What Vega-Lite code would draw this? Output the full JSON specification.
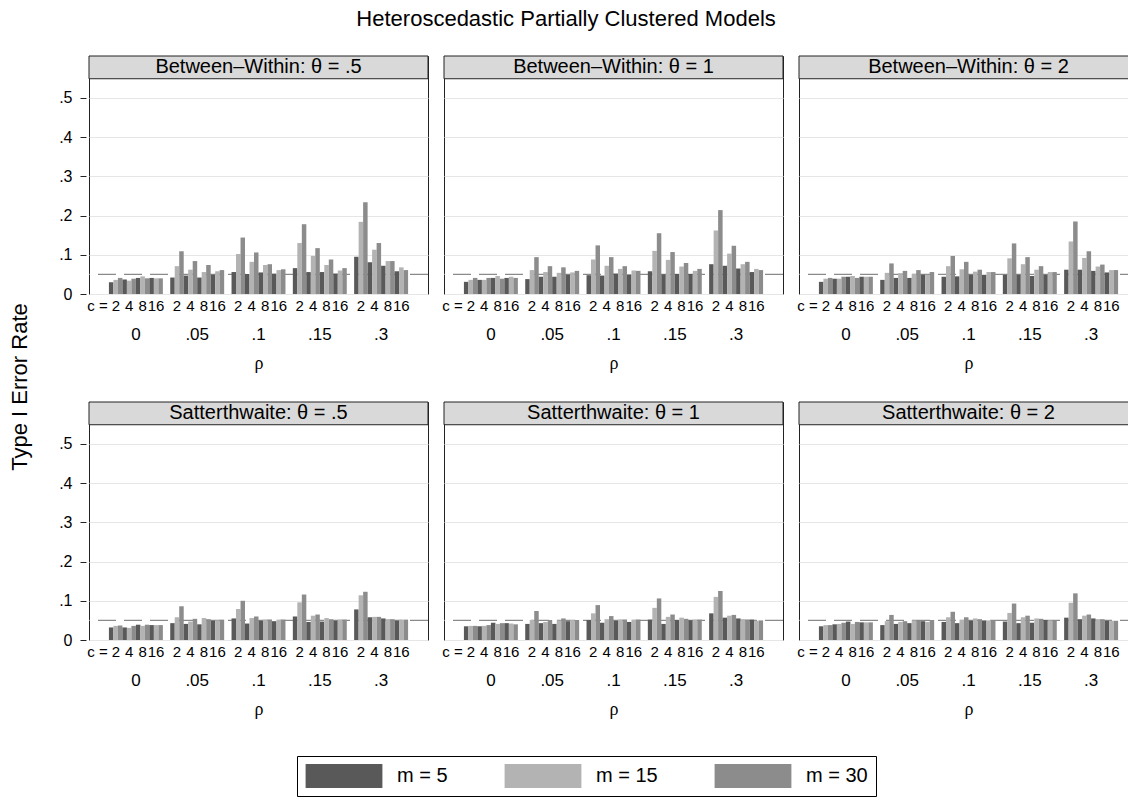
{
"$schema":"https://vega.github.io/schema/vega-lite/v6.json",
"padding":{"left":8,"top":8,"right":0,"bottom":0},
"title":{"text":"Heteroscedastic Partially Clustered Models","fontSize":22,"fontWeight":"normal","font":"Liberation Sans","anchor":"middle","frame":"bounds","offset":24,"dx":-8,"color":"#000"},
"datasets":{
"panels":[
{"p":1,"method":"Between-Within","theta":".5","t":"Between–Within: θ = .5"},
{"p":2,"method":"Between-Within","theta":"1","t":"Between–Within: θ = 1"},
{"p":3,"method":"Between-Within","theta":"2","t":"Between–Within: θ = 2"},
{"p":4,"method":"Satterthwaite","theta":".5","t":"Satterthwaite: θ = .5"},
{"p":5,"method":"Satterthwaite","theta":"1","t":"Satterthwaite: θ = 1"},
{"p":6,"method":"Satterthwaite","theta":"2","t":"Satterthwaite: θ = 2"}
],
"bars":[
{"p":1,"rho":"0","c":2,"m":5,"k":"2/5","v":0.030},{"p":1,"rho":"0","c":2,"m":15,"k":"2/15","v":0.036},{"p":1,"rho":"0","c":2,"m":30,"k":"2/30","v":0.041},
{"p":1,"rho":"0","c":4,"m":5,"k":"4/5","v":0.037},{"p":1,"rho":"0","c":4,"m":15,"k":"4/15","v":0.034},{"p":1,"rho":"0","c":4,"m":30,"k":"4/30","v":0.039},
{"p":1,"rho":"0","c":8,"m":5,"k":"8/5","v":0.041},{"p":1,"rho":"0","c":8,"m":15,"k":"8/15","v":0.045},{"p":1,"rho":"0","c":8,"m":30,"k":"8/30","v":0.040},
{"p":1,"rho":"0","c":16,"m":5,"k":"16/5","v":0.041},{"p":1,"rho":"0","c":16,"m":15,"k":"16/15","v":0.040},{"p":1,"rho":"0","c":16,"m":30,"k":"16/30","v":0.040},
{"p":1,"rho":".05","c":2,"m":5,"k":"2/5","v":0.042},{"p":1,"rho":".05","c":2,"m":15,"k":"2/15","v":0.071},{"p":1,"rho":".05","c":2,"m":30,"k":"2/30","v":0.109},
{"p":1,"rho":".05","c":4,"m":5,"k":"4/5","v":0.047},{"p":1,"rho":".05","c":4,"m":15,"k":"4/15","v":0.062},{"p":1,"rho":".05","c":4,"m":30,"k":"4/30","v":0.084},
{"p":1,"rho":".05","c":8,"m":5,"k":"8/5","v":0.042},{"p":1,"rho":".05","c":8,"m":15,"k":"8/15","v":0.056},{"p":1,"rho":".05","c":8,"m":30,"k":"8/30","v":0.074},
{"p":1,"rho":".05","c":16,"m":5,"k":"16/5","v":0.049},{"p":1,"rho":".05","c":16,"m":15,"k":"16/15","v":0.058},{"p":1,"rho":".05","c":16,"m":30,"k":"16/30","v":0.061},
{"p":1,"rho":".1","c":2,"m":5,"k":"2/5","v":0.056},{"p":1,"rho":".1","c":2,"m":15,"k":"2/15","v":0.102},{"p":1,"rho":".1","c":2,"m":30,"k":"2/30","v":0.144},
{"p":1,"rho":".1","c":4,"m":5,"k":"4/5","v":0.051},{"p":1,"rho":".1","c":4,"m":15,"k":"4/15","v":0.082},{"p":1,"rho":".1","c":4,"m":30,"k":"4/30","v":0.106},
{"p":1,"rho":".1","c":8,"m":5,"k":"8/5","v":0.055},{"p":1,"rho":".1","c":8,"m":15,"k":"8/15","v":0.074},{"p":1,"rho":".1","c":8,"m":30,"k":"8/30","v":0.076},
{"p":1,"rho":".1","c":16,"m":5,"k":"16/5","v":0.052},{"p":1,"rho":".1","c":16,"m":15,"k":"16/15","v":0.061},{"p":1,"rho":".1","c":16,"m":30,"k":"16/30","v":0.063},
{"p":1,"rho":".15","c":2,"m":5,"k":"2/5","v":0.066},{"p":1,"rho":".15","c":2,"m":15,"k":"2/15","v":0.130},{"p":1,"rho":".15","c":2,"m":30,"k":"2/30","v":0.178},
{"p":1,"rho":".15","c":4,"m":5,"k":"4/5","v":0.056},{"p":1,"rho":".15","c":4,"m":15,"k":"4/15","v":0.097},{"p":1,"rho":".15","c":4,"m":30,"k":"4/30","v":0.117},
{"p":1,"rho":".15","c":8,"m":5,"k":"8/5","v":0.056},{"p":1,"rho":".15","c":8,"m":15,"k":"8/15","v":0.074},{"p":1,"rho":".15","c":8,"m":30,"k":"8/30","v":0.088},
{"p":1,"rho":".15","c":16,"m":5,"k":"16/5","v":0.052},{"p":1,"rho":".15","c":16,"m":15,"k":"16/15","v":0.060},{"p":1,"rho":".15","c":16,"m":30,"k":"16/30","v":0.066},
{"p":1,"rho":".3","c":2,"m":5,"k":"2/5","v":0.095},{"p":1,"rho":".3","c":2,"m":15,"k":"2/15","v":0.184},{"p":1,"rho":".3","c":2,"m":30,"k":"2/30","v":0.234},
{"p":1,"rho":".3","c":4,"m":5,"k":"4/5","v":0.081},{"p":1,"rho":".3","c":4,"m":15,"k":"4/15","v":0.113},{"p":1,"rho":".3","c":4,"m":30,"k":"4/30","v":0.130},
{"p":1,"rho":".3","c":8,"m":5,"k":"8/5","v":0.072},{"p":1,"rho":".3","c":8,"m":15,"k":"8/15","v":0.084},{"p":1,"rho":".3","c":8,"m":30,"k":"8/30","v":0.084},
{"p":1,"rho":".3","c":16,"m":5,"k":"16/5","v":0.058},{"p":1,"rho":".3","c":16,"m":15,"k":"16/15","v":0.068},{"p":1,"rho":".3","c":16,"m":30,"k":"16/30","v":0.061},

{"p":2,"rho":"0","c":2,"m":5,"k":"2/5","v":0.031},{"p":2,"rho":"0","c":2,"m":15,"k":"2/15","v":0.036},{"p":2,"rho":"0","c":2,"m":30,"k":"2/30","v":0.041},
{"p":2,"rho":"0","c":4,"m":5,"k":"4/5","v":0.036},{"p":2,"rho":"0","c":4,"m":15,"k":"4/15","v":0.036},{"p":2,"rho":"0","c":4,"m":30,"k":"4/30","v":0.041},
{"p":2,"rho":"0","c":8,"m":5,"k":"8/5","v":0.041},{"p":2,"rho":"0","c":8,"m":15,"k":"8/15","v":0.046},{"p":2,"rho":"0","c":8,"m":30,"k":"8/30","v":0.039},
{"p":2,"rho":"0","c":16,"m":5,"k":"16/5","v":0.041},{"p":2,"rho":"0","c":16,"m":15,"k":"16/15","v":0.044},{"p":2,"rho":"0","c":16,"m":30,"k":"16/30","v":0.041},
{"p":2,"rho":".05","c":2,"m":5,"k":"2/5","v":0.038},{"p":2,"rho":".05","c":2,"m":15,"k":"2/15","v":0.061},{"p":2,"rho":".05","c":2,"m":30,"k":"2/30","v":0.094},
{"p":2,"rho":".05","c":4,"m":5,"k":"4/5","v":0.044},{"p":2,"rho":".05","c":4,"m":15,"k":"4/15","v":0.056},{"p":2,"rho":".05","c":4,"m":30,"k":"4/30","v":0.071},
{"p":2,"rho":".05","c":8,"m":5,"k":"8/5","v":0.044},{"p":2,"rho":".05","c":8,"m":15,"k":"8/15","v":0.054},{"p":2,"rho":".05","c":8,"m":30,"k":"8/30","v":0.068},
{"p":2,"rho":".05","c":16,"m":5,"k":"16/5","v":0.049},{"p":2,"rho":".05","c":16,"m":15,"k":"16/15","v":0.055},{"p":2,"rho":".05","c":16,"m":30,"k":"16/30","v":0.059},
{"p":2,"rho":".1","c":2,"m":5,"k":"2/5","v":0.048},{"p":2,"rho":".1","c":2,"m":15,"k":"2/15","v":0.088},{"p":2,"rho":".1","c":2,"m":30,"k":"2/30","v":0.124},
{"p":2,"rho":".1","c":4,"m":5,"k":"4/5","v":0.047},{"p":2,"rho":".1","c":4,"m":15,"k":"4/15","v":0.072},{"p":2,"rho":".1","c":4,"m":30,"k":"4/30","v":0.094},
{"p":2,"rho":".1","c":8,"m":5,"k":"8/5","v":0.052},{"p":2,"rho":".1","c":8,"m":15,"k":"8/15","v":0.064},{"p":2,"rho":".1","c":8,"m":30,"k":"8/30","v":0.071},
{"p":2,"rho":".1","c":16,"m":5,"k":"16/5","v":0.050},{"p":2,"rho":".1","c":16,"m":15,"k":"16/15","v":0.060},{"p":2,"rho":".1","c":16,"m":30,"k":"16/30","v":0.059},
{"p":2,"rho":".15","c":2,"m":5,"k":"2/5","v":0.058},{"p":2,"rho":".15","c":2,"m":15,"k":"2/15","v":0.110},{"p":2,"rho":".15","c":2,"m":30,"k":"2/30","v":0.155},
{"p":2,"rho":".15","c":4,"m":5,"k":"4/5","v":0.050},{"p":2,"rho":".15","c":4,"m":15,"k":"4/15","v":0.087},{"p":2,"rho":".15","c":4,"m":30,"k":"4/30","v":0.107},
{"p":2,"rho":".15","c":8,"m":5,"k":"8/5","v":0.051},{"p":2,"rho":".15","c":8,"m":15,"k":"8/15","v":0.070},{"p":2,"rho":".15","c":8,"m":30,"k":"8/30","v":0.079},
{"p":2,"rho":".15","c":16,"m":5,"k":"16/5","v":0.051},{"p":2,"rho":".15","c":16,"m":15,"k":"16/15","v":0.059},{"p":2,"rho":".15","c":16,"m":30,"k":"16/30","v":0.064},
{"p":2,"rho":".3","c":2,"m":5,"k":"2/5","v":0.076},{"p":2,"rho":".3","c":2,"m":15,"k":"2/15","v":0.162},{"p":2,"rho":".3","c":2,"m":30,"k":"2/30","v":0.214},
{"p":2,"rho":".3","c":4,"m":5,"k":"4/5","v":0.072},{"p":2,"rho":".3","c":4,"m":15,"k":"4/15","v":0.103},{"p":2,"rho":".3","c":4,"m":30,"k":"4/30","v":0.123},
{"p":2,"rho":".3","c":8,"m":5,"k":"8/5","v":0.065},{"p":2,"rho":".3","c":8,"m":15,"k":"8/15","v":0.076},{"p":2,"rho":".3","c":8,"m":30,"k":"8/30","v":0.082},
{"p":2,"rho":".3","c":16,"m":5,"k":"16/5","v":0.056},{"p":2,"rho":".3","c":16,"m":15,"k":"16/15","v":0.064},{"p":2,"rho":".3","c":16,"m":30,"k":"16/30","v":0.061},

{"p":3,"rho":"0","c":2,"m":5,"k":"2/5","v":0.031},{"p":3,"rho":"0","c":2,"m":15,"k":"2/15","v":0.039},{"p":3,"rho":"0","c":2,"m":30,"k":"2/30","v":0.041},
{"p":3,"rho":"0","c":4,"m":5,"k":"4/5","v":0.039},{"p":3,"rho":"0","c":4,"m":15,"k":"4/15","v":0.039},{"p":3,"rho":"0","c":4,"m":30,"k":"4/30","v":0.044},
{"p":3,"rho":"0","c":8,"m":5,"k":"8/5","v":0.044},{"p":3,"rho":"0","c":8,"m":15,"k":"8/15","v":0.046},{"p":3,"rho":"0","c":8,"m":30,"k":"8/30","v":0.041},
{"p":3,"rho":"0","c":16,"m":5,"k":"16/5","v":0.044},{"p":3,"rho":"0","c":16,"m":15,"k":"16/15","v":0.044},{"p":3,"rho":"0","c":16,"m":30,"k":"16/30","v":0.044},
{"p":3,"rho":".05","c":2,"m":5,"k":"2/5","v":0.036},{"p":3,"rho":".05","c":2,"m":15,"k":"2/15","v":0.054},{"p":3,"rho":".05","c":2,"m":30,"k":"2/30","v":0.078},
{"p":3,"rho":".05","c":4,"m":5,"k":"4/5","v":0.041},{"p":3,"rho":".05","c":4,"m":15,"k":"4/15","v":0.053},{"p":3,"rho":".05","c":4,"m":30,"k":"4/30","v":0.059},
{"p":3,"rho":".05","c":8,"m":5,"k":"8/5","v":0.041},{"p":3,"rho":".05","c":8,"m":15,"k":"8/15","v":0.051},{"p":3,"rho":".05","c":8,"m":30,"k":"8/30","v":0.061},
{"p":3,"rho":".05","c":16,"m":5,"k":"16/5","v":0.049},{"p":3,"rho":".05","c":16,"m":15,"k":"16/15","v":0.049},{"p":3,"rho":".05","c":16,"m":30,"k":"16/30","v":0.056},
{"p":3,"rho":".1","c":2,"m":5,"k":"2/5","v":0.044},{"p":3,"rho":".1","c":2,"m":15,"k":"2/15","v":0.071},{"p":3,"rho":".1","c":2,"m":30,"k":"2/30","v":0.097},
{"p":3,"rho":".1","c":4,"m":5,"k":"4/5","v":0.045},{"p":3,"rho":".1","c":4,"m":15,"k":"4/15","v":0.063},{"p":3,"rho":".1","c":4,"m":30,"k":"4/30","v":0.082},
{"p":3,"rho":".1","c":8,"m":5,"k":"8/5","v":0.049},{"p":3,"rho":".1","c":8,"m":15,"k":"8/15","v":0.057},{"p":3,"rho":".1","c":8,"m":30,"k":"8/30","v":0.062},
{"p":3,"rho":".1","c":16,"m":5,"k":"16/5","v":0.049},{"p":3,"rho":".1","c":16,"m":15,"k":"16/15","v":0.056},{"p":3,"rho":".1","c":16,"m":30,"k":"16/30","v":0.056},
{"p":3,"rho":".15","c":2,"m":5,"k":"2/5","v":0.049},{"p":3,"rho":".15","c":2,"m":15,"k":"2/15","v":0.091},{"p":3,"rho":".15","c":2,"m":30,"k":"2/30","v":0.129},
{"p":3,"rho":".15","c":4,"m":5,"k":"4/5","v":0.049},{"p":3,"rho":".15","c":4,"m":15,"k":"4/15","v":0.076},{"p":3,"rho":".15","c":4,"m":30,"k":"4/30","v":0.094},
{"p":3,"rho":".15","c":8,"m":5,"k":"8/5","v":0.046},{"p":3,"rho":".15","c":8,"m":15,"k":"8/15","v":0.062},{"p":3,"rho":".15","c":8,"m":30,"k":"8/30","v":0.071},
{"p":3,"rho":".15","c":16,"m":5,"k":"16/5","v":0.049},{"p":3,"rho":".15","c":16,"m":15,"k":"16/15","v":0.056},{"p":3,"rho":".15","c":16,"m":30,"k":"16/30","v":0.056},
{"p":3,"rho":".3","c":2,"m":5,"k":"2/5","v":0.062},{"p":3,"rho":".3","c":2,"m":15,"k":"2/15","v":0.134},{"p":3,"rho":".3","c":2,"m":30,"k":"2/30","v":0.185},
{"p":3,"rho":".3","c":4,"m":5,"k":"4/5","v":0.062},{"p":3,"rho":".3","c":4,"m":15,"k":"4/15","v":0.092},{"p":3,"rho":".3","c":4,"m":30,"k":"4/30","v":0.109},
{"p":3,"rho":".3","c":8,"m":5,"k":"8/5","v":0.059},{"p":3,"rho":".3","c":8,"m":15,"k":"8/15","v":0.070},{"p":3,"rho":".3","c":8,"m":30,"k":"8/30","v":0.075},
{"p":3,"rho":".3","c":16,"m":5,"k":"16/5","v":0.055},{"p":3,"rho":".3","c":16,"m":15,"k":"16/15","v":0.061},{"p":3,"rho":".3","c":16,"m":30,"k":"16/30","v":0.061},

{"p":4,"rho":"0","c":2,"m":5,"k":"2/5","v":0.032},{"p":4,"rho":"0","c":2,"m":15,"k":"2/15","v":0.036},{"p":4,"rho":"0","c":2,"m":30,"k":"2/30","v":0.037},
{"p":4,"rho":"0","c":4,"m":5,"k":"4/5","v":0.032},{"p":4,"rho":"0","c":4,"m":15,"k":"4/15","v":0.031},{"p":4,"rho":"0","c":4,"m":30,"k":"4/30","v":0.036},
{"p":4,"rho":"0","c":8,"m":5,"k":"8/5","v":0.039},{"p":4,"rho":"0","c":8,"m":15,"k":"8/15","v":0.036},{"p":4,"rho":"0","c":8,"m":30,"k":"8/30","v":0.039},
{"p":4,"rho":"0","c":16,"m":5,"k":"16/5","v":0.038},{"p":4,"rho":"0","c":16,"m":15,"k":"16/15","v":0.038},{"p":4,"rho":"0","c":16,"m":30,"k":"16/30","v":0.038},
{"p":4,"rho":".05","c":2,"m":5,"k":"2/5","v":0.043},{"p":4,"rho":".05","c":2,"m":15,"k":"2/15","v":0.058},{"p":4,"rho":".05","c":2,"m":30,"k":"2/30","v":0.086},
{"p":4,"rho":".05","c":4,"m":5,"k":"4/5","v":0.041},{"p":4,"rho":".05","c":4,"m":15,"k":"4/15","v":0.047},{"p":4,"rho":".05","c":4,"m":30,"k":"4/30","v":0.054},
{"p":4,"rho":".05","c":8,"m":5,"k":"8/5","v":0.040},{"p":4,"rho":".05","c":8,"m":15,"k":"8/15","v":0.056},{"p":4,"rho":".05","c":8,"m":30,"k":"8/30","v":0.053},
{"p":4,"rho":".05","c":16,"m":5,"k":"16/5","v":0.049},{"p":4,"rho":".05","c":16,"m":15,"k":"16/15","v":0.050},{"p":4,"rho":".05","c":16,"m":30,"k":"16/30","v":0.052},
{"p":4,"rho":".1","c":2,"m":5,"k":"2/5","v":0.055},{"p":4,"rho":".1","c":2,"m":15,"k":"2/15","v":0.079},{"p":4,"rho":".1","c":2,"m":30,"k":"2/30","v":0.100},
{"p":4,"rho":".1","c":4,"m":5,"k":"4/5","v":0.042},{"p":4,"rho":".1","c":4,"m":15,"k":"4/15","v":0.056},{"p":4,"rho":".1","c":4,"m":30,"k":"4/30","v":0.060},
{"p":4,"rho":".1","c":8,"m":5,"k":"8/5","v":0.049},{"p":4,"rho":".1","c":8,"m":15,"k":"8/15","v":0.052},{"p":4,"rho":".1","c":8,"m":30,"k":"8/30","v":0.052},
{"p":4,"rho":".1","c":16,"m":5,"k":"16/5","v":0.048},{"p":4,"rho":".1","c":16,"m":15,"k":"16/15","v":0.052},{"p":4,"rho":".1","c":16,"m":30,"k":"16/30","v":0.052},
{"p":4,"rho":".15","c":2,"m":5,"k":"2/5","v":0.060},{"p":4,"rho":".15","c":2,"m":15,"k":"2/15","v":0.096},{"p":4,"rho":".15","c":2,"m":30,"k":"2/30","v":0.116},
{"p":4,"rho":".15","c":4,"m":5,"k":"4/5","v":0.046},{"p":4,"rho":".15","c":4,"m":15,"k":"4/15","v":0.062},{"p":4,"rho":".15","c":4,"m":30,"k":"4/30","v":0.065},
{"p":4,"rho":".15","c":8,"m":5,"k":"8/5","v":0.047},{"p":4,"rho":".15","c":8,"m":15,"k":"8/15","v":0.056},{"p":4,"rho":".15","c":8,"m":30,"k":"8/30","v":0.053},
{"p":4,"rho":".15","c":16,"m":5,"k":"16/5","v":0.049},{"p":4,"rho":".15","c":16,"m":15,"k":"16/15","v":0.052},{"p":4,"rho":".15","c":16,"m":30,"k":"16/30","v":0.052},
{"p":4,"rho":".3","c":2,"m":5,"k":"2/5","v":0.078},{"p":4,"rho":".3","c":2,"m":15,"k":"2/15","v":0.114},{"p":4,"rho":".3","c":2,"m":30,"k":"2/30","v":0.123},
{"p":4,"rho":".3","c":4,"m":5,"k":"4/5","v":0.058},{"p":4,"rho":".3","c":4,"m":15,"k":"4/15","v":0.059},{"p":4,"rho":".3","c":4,"m":30,"k":"4/30","v":0.059},
{"p":4,"rho":".3","c":8,"m":5,"k":"8/5","v":0.055},{"p":4,"rho":".3","c":8,"m":15,"k":"8/15","v":0.053},{"p":4,"rho":".3","c":8,"m":30,"k":"8/30","v":0.053},
{"p":4,"rho":".3","c":16,"m":5,"k":"16/5","v":0.049},{"p":4,"rho":".3","c":16,"m":15,"k":"16/15","v":0.052},{"p":4,"rho":".3","c":16,"m":30,"k":"16/30","v":0.052},

{"p":5,"rho":"0","c":2,"m":5,"k":"2/5","v":0.035},{"p":5,"rho":"0","c":2,"m":15,"k":"2/15","v":0.036},{"p":5,"rho":"0","c":2,"m":30,"k":"2/30","v":0.036},
{"p":5,"rho":"0","c":4,"m":5,"k":"4/5","v":0.035},{"p":5,"rho":"0","c":4,"m":15,"k":"4/15","v":0.036},{"p":5,"rho":"0","c":4,"m":30,"k":"4/30","v":0.038},
{"p":5,"rho":"0","c":8,"m":5,"k":"8/5","v":0.044},{"p":5,"rho":"0","c":8,"m":15,"k":"8/15","v":0.041},{"p":5,"rho":"0","c":8,"m":30,"k":"8/30","v":0.043},
{"p":5,"rho":"0","c":16,"m":5,"k":"16/5","v":0.043},{"p":5,"rho":"0","c":16,"m":15,"k":"16/15","v":0.042},{"p":5,"rho":"0","c":16,"m":30,"k":"16/30","v":0.040},
{"p":5,"rho":".05","c":2,"m":5,"k":"2/5","v":0.041},{"p":5,"rho":".05","c":2,"m":15,"k":"2/15","v":0.051},{"p":5,"rho":".05","c":2,"m":30,"k":"2/30","v":0.074},
{"p":5,"rho":".05","c":4,"m":5,"k":"4/5","v":0.043},{"p":5,"rho":".05","c":4,"m":15,"k":"4/15","v":0.046},{"p":5,"rho":".05","c":4,"m":30,"k":"4/30","v":0.051},
{"p":5,"rho":".05","c":8,"m":5,"k":"8/5","v":0.041},{"p":5,"rho":".05","c":8,"m":15,"k":"8/15","v":0.050},{"p":5,"rho":".05","c":8,"m":30,"k":"8/30","v":0.055},
{"p":5,"rho":".05","c":16,"m":5,"k":"16/5","v":0.048},{"p":5,"rho":".05","c":16,"m":15,"k":"16/15","v":0.051},{"p":5,"rho":".05","c":16,"m":30,"k":"16/30","v":0.051},
{"p":5,"rho":".1","c":2,"m":5,"k":"2/5","v":0.051},{"p":5,"rho":".1","c":2,"m":15,"k":"2/15","v":0.068},{"p":5,"rho":".1","c":2,"m":30,"k":"2/30","v":0.089},
{"p":5,"rho":".1","c":4,"m":5,"k":"4/5","v":0.044},{"p":5,"rho":".1","c":4,"m":15,"k":"4/15","v":0.053},{"p":5,"rho":".1","c":4,"m":30,"k":"4/30","v":0.061},
{"p":5,"rho":".1","c":8,"m":5,"k":"8/5","v":0.049},{"p":5,"rho":".1","c":8,"m":15,"k":"8/15","v":0.052},{"p":5,"rho":".1","c":8,"m":30,"k":"8/30","v":0.052},
{"p":5,"rho":".1","c":16,"m":5,"k":"16/5","v":0.046},{"p":5,"rho":".1","c":16,"m":15,"k":"16/15","v":0.052},{"p":5,"rho":".1","c":16,"m":30,"k":"16/30","v":0.052},
{"p":5,"rho":".15","c":2,"m":5,"k":"2/5","v":0.052},{"p":5,"rho":".15","c":2,"m":15,"k":"2/15","v":0.082},{"p":5,"rho":".15","c":2,"m":30,"k":"2/30","v":0.106},
{"p":5,"rho":".15","c":4,"m":5,"k":"4/5","v":0.041},{"p":5,"rho":".15","c":4,"m":15,"k":"4/15","v":0.059},{"p":5,"rho":".15","c":4,"m":30,"k":"4/30","v":0.065},
{"p":5,"rho":".15","c":8,"m":5,"k":"8/5","v":0.051},{"p":5,"rho":".15","c":8,"m":15,"k":"8/15","v":0.057},{"p":5,"rho":".15","c":8,"m":30,"k":"8/30","v":0.054},
{"p":5,"rho":".15","c":16,"m":5,"k":"16/5","v":0.050},{"p":5,"rho":".15","c":16,"m":15,"k":"16/15","v":0.052},{"p":5,"rho":".15","c":16,"m":30,"k":"16/30","v":0.052},
{"p":5,"rho":".3","c":2,"m":5,"k":"2/5","v":0.068},{"p":5,"rho":".3","c":2,"m":15,"k":"2/15","v":0.110},{"p":5,"rho":".3","c":2,"m":30,"k":"2/30","v":0.125},
{"p":5,"rho":".3","c":4,"m":5,"k":"4/5","v":0.057},{"p":5,"rho":".3","c":4,"m":15,"k":"4/15","v":0.062},{"p":5,"rho":".3","c":4,"m":30,"k":"4/30","v":0.064},
{"p":5,"rho":".3","c":8,"m":5,"k":"8/5","v":0.055},{"p":5,"rho":".3","c":8,"m":15,"k":"8/15","v":0.053},{"p":5,"rho":".3","c":8,"m":30,"k":"8/30","v":0.052},
{"p":5,"rho":".3","c":16,"m":5,"k":"16/5","v":0.052},{"p":5,"rho":".3","c":16,"m":15,"k":"16/15","v":0.049},{"p":5,"rho":".3","c":16,"m":30,"k":"16/30","v":0.050},

{"p":6,"rho":"0","c":2,"m":5,"k":"2/5","v":0.035},{"p":6,"rho":"0","c":2,"m":15,"k":"2/15","v":0.038},{"p":6,"rho":"0","c":2,"m":30,"k":"2/30","v":0.038},
{"p":6,"rho":"0","c":4,"m":5,"k":"4/5","v":0.040},{"p":6,"rho":"0","c":4,"m":15,"k":"4/15","v":0.041},{"p":6,"rho":"0","c":4,"m":30,"k":"4/30","v":0.044},
{"p":6,"rho":"0","c":8,"m":5,"k":"8/5","v":0.047},{"p":6,"rho":"0","c":8,"m":15,"k":"8/15","v":0.041},{"p":6,"rho":"0","c":8,"m":30,"k":"8/30","v":0.046},
{"p":6,"rho":"0","c":16,"m":5,"k":"16/5","v":0.045},{"p":6,"rho":"0","c":16,"m":15,"k":"16/15","v":0.045},{"p":6,"rho":"0","c":16,"m":30,"k":"16/30","v":0.045},
{"p":6,"rho":".05","c":2,"m":5,"k":"2/5","v":0.038},{"p":6,"rho":".05","c":2,"m":15,"k":"2/15","v":0.048},{"p":6,"rho":".05","c":2,"m":30,"k":"2/30","v":0.064},
{"p":6,"rho":".05","c":4,"m":5,"k":"4/5","v":0.041},{"p":6,"rho":".05","c":4,"m":15,"k":"4/15","v":0.046},{"p":6,"rho":".05","c":4,"m":30,"k":"4/30","v":0.048},
{"p":6,"rho":".05","c":8,"m":5,"k":"8/5","v":0.043},{"p":6,"rho":".05","c":8,"m":15,"k":"8/15","v":0.050},{"p":6,"rho":".05","c":8,"m":30,"k":"8/30","v":0.050},
{"p":6,"rho":".05","c":16,"m":5,"k":"16/5","v":0.048},{"p":6,"rho":".05","c":16,"m":15,"k":"16/15","v":0.046},{"p":6,"rho":".05","c":16,"m":30,"k":"16/30","v":0.051},
{"p":6,"rho":".1","c":2,"m":5,"k":"2/5","v":0.046},{"p":6,"rho":".1","c":2,"m":15,"k":"2/15","v":0.058},{"p":6,"rho":".1","c":2,"m":30,"k":"2/30","v":0.072},
{"p":6,"rho":".1","c":4,"m":5,"k":"4/5","v":0.043},{"p":6,"rho":".1","c":4,"m":15,"k":"4/15","v":0.052},{"p":6,"rho":".1","c":4,"m":30,"k":"4/30","v":0.058},
{"p":6,"rho":".1","c":8,"m":5,"k":"8/5","v":0.049},{"p":6,"rho":".1","c":8,"m":15,"k":"8/15","v":0.055},{"p":6,"rho":".1","c":8,"m":30,"k":"8/30","v":0.053},
{"p":6,"rho":".1","c":16,"m":5,"k":"16/5","v":0.050},{"p":6,"rho":".1","c":16,"m":15,"k":"16/15","v":0.050},{"p":6,"rho":".1","c":16,"m":30,"k":"16/30","v":0.050},
{"p":6,"rho":".15","c":2,"m":5,"k":"2/5","v":0.047},{"p":6,"rho":".15","c":2,"m":15,"k":"2/15","v":0.069},{"p":6,"rho":".15","c":2,"m":30,"k":"2/30","v":0.093},
{"p":6,"rho":".15","c":4,"m":5,"k":"4/5","v":0.043},{"p":6,"rho":".15","c":4,"m":15,"k":"4/15","v":0.058},{"p":6,"rho":".15","c":4,"m":30,"k":"4/30","v":0.062},
{"p":6,"rho":".15","c":8,"m":5,"k":"8/5","v":0.044},{"p":6,"rho":".15","c":8,"m":15,"k":"8/15","v":0.055},{"p":6,"rho":".15","c":8,"m":30,"k":"8/30","v":0.054},
{"p":6,"rho":".15","c":16,"m":5,"k":"16/5","v":0.051},{"p":6,"rho":".15","c":16,"m":15,"k":"16/15","v":0.050},{"p":6,"rho":".15","c":16,"m":30,"k":"16/30","v":0.050},
{"p":6,"rho":".3","c":2,"m":5,"k":"2/5","v":0.057},{"p":6,"rho":".3","c":2,"m":15,"k":"2/15","v":0.095},{"p":6,"rho":".3","c":2,"m":30,"k":"2/30","v":0.119},
{"p":6,"rho":".3","c":4,"m":5,"k":"4/5","v":0.053},{"p":6,"rho":".3","c":4,"m":15,"k":"4/15","v":0.062},{"p":6,"rho":".3","c":4,"m":30,"k":"4/30","v":0.065},
{"p":6,"rho":".3","c":8,"m":5,"k":"8/5","v":0.055},{"p":6,"rho":".3","c":8,"m":15,"k":"8/15","v":0.053},{"p":6,"rho":".3","c":8,"m":30,"k":"8/30","v":0.053},
{"p":6,"rho":".3","c":16,"m":5,"k":"16/5","v":0.049},{"p":6,"rho":".3","c":16,"m":15,"k":"16/15","v":0.049},{"p":6,"rho":".3","c":16,"m":30,"k":"16/30","v":0.049}
]},
"data":{"name":"bars"},
"transform":[{"lookup":"p","from":{"data":{"name":"panels"},"key":"p","fields":["method","theta","t"]}}],
"facet":{
"row":{"field":"method","type":"nominal","header":{"title":"Type I Error Rate","labels":false,"titleFontSize":22,"titleFont":"Liberation Sans","titleFontWeight":"normal","titleColor":"#000","titlePadding":16}},
"column":{"field":"theta","type":"nominal","header":{"title":null,"labels":false}}
},
"spacing":{"row":28,"column":11},
"resolve":{"axis":{"x":"independent"}},
"spec":{
"width":339,"height":238,
"layer":[
{"transform":[{"filter":"datum.rho=='0' && datum.k=='2/5'"}],
 "mark":{"type":"rule","stroke":"#8a8a8a","strokeWidth":1.3,"strokeDash":[18,8]},
 "encoding":{"y":{"datum":0.05,"type":"quantitative","title":null,
   "scale":{"domain":[0,0.607],"nice":false,"zero":true},
   "axis":{"values":[0,0.1,0.2,0.3,0.4,0.5],"labelExpr":"datum.value==0?'0':replace(format(datum.value,'.1f'),'0.','.')","grid":true,"gridColor":"#e6e6e6","gridWidth":1,"domain":false,"ticks":true,"tickSize":6,"tickColor":"#222","labelFontSize":16,"labelColor":"#000","labelPadding":8,"labelFont":"Liberation Sans"}}}},
{"mark":{"type":"bar"},
 "encoding":{
  "x":{"field":"rho","type":"nominal","sort":["0",".05",".1",".15",".3"],"title":"ρ",
   "scale":{"paddingInner":0.12,"paddingOuter":0.325},
   "axis":{"domain":false,"ticks":false,"labelAngle":0,"labelFontSize":17,"labelColor":"#000","labelPadding":32,"labelFont":"Liberation Sans","titleFont":"Liberation Serif","titleFontSize":18,"titleFontWeight":"normal","titleColor":"#000","titlePadding":12}},
  "xOffset":{"field":"k","type":"nominal","sort":["2/5","2/15","2/30","4/5","4/15","4/30","8/5","8/15","8/30","16/5","16/15","16/30"],"scale":{"paddingInner":0,"paddingOuter":0}},
  "y":{"field":"v","type":"quantitative","title":null},
  "color":{"field":"m","type":"nominal","scale":{"domain":[5,15,30],"range":["#595959","#b3b3b3","#8c8c8c"]},
   "legend":{"orient":"none","legendX":208,"legendY":700,"direction":"horizontal","title":null,"symbolType":"M-3.2,-1H3.2V1H-3.2Z","symbolSize":576,"symbolStrokeWidth":0,"symbolOpacity":1,"symbolOffset":27,"labelFontSize":20,"labelColor":"#000","labelFont":"Liberation Sans","labelExpr":"'m = ' + datum.label","strokeColor":"#000","fillColor":"#fff","padding":8,"columnPadding":56,"labelOffset":41}}
 }},
{"transform":[{"filter":"datum.rho=='0' && datum.k=='2/5'"}],
 "mark":{"type":"rect","fill":"#d9d9d9","stroke":"#222","strokeWidth":1},
 "encoding":{"y":{"datum":0.549,"type":"quantitative","title":null},"y2":{"datum":0.607}}},
{"transform":[{"filter":"datum.rho=='0' && datum.k=='2/5'"}],
 "mark":{"type":"text","fontSize":20,"color":"#000","font":"Liberation Sans","baseline":"middle"},
 "encoding":{"x":{"datum":".1","type":"nominal","title":"ρ"},"y":{"datum":0.578,"type":"quantitative","title":null},"text":{"field":"t"}}},
{"transform":[{"filter":"datum.m==15 && !(datum.rho=='0' && datum.c==2)"}],
 "mark":{"type":"text","fontSize":15,"color":"#000","font":"Liberation Sans","baseline":"top","dy":5},
 "encoding":{"x":{"field":"rho","type":"nominal","sort":["0",".05",".1",".15",".3"],"title":"ρ"},
  "xOffset":{"field":"k","type":"nominal","sort":["2/5","2/15","2/30","4/5","4/15","4/30","8/5","8/15","8/30","16/5","16/15","16/30"]},
  "y":{"datum":0,"type":"quantitative","title":null},
  "text":{"field":"c","type":"nominal"}}},
{"transform":[{"filter":"datum.m==15 && datum.rho=='0' && datum.c==2"}],
 "mark":{"type":"text","fontSize":15,"color":"#000","font":"Liberation Sans","baseline":"top","align":"right","dy":5,"dx":4.5},
 "encoding":{"x":{"field":"rho","type":"nominal","sort":["0",".05",".1",".15",".3"],"title":"ρ"},
  "xOffset":{"field":"k","type":"nominal","sort":["2/5","2/15","2/30","4/5","4/15","4/30","8/5","8/15","8/30","16/5","16/15","16/30"]},
  "y":{"datum":0,"type":"quantitative","title":null},
  "text":{"value":"c = 2"}}}
]
},
"config":{"font":"Liberation Sans","view":{"stroke":"#222","strokeWidth":1},"background":"#ffffff"}
}
